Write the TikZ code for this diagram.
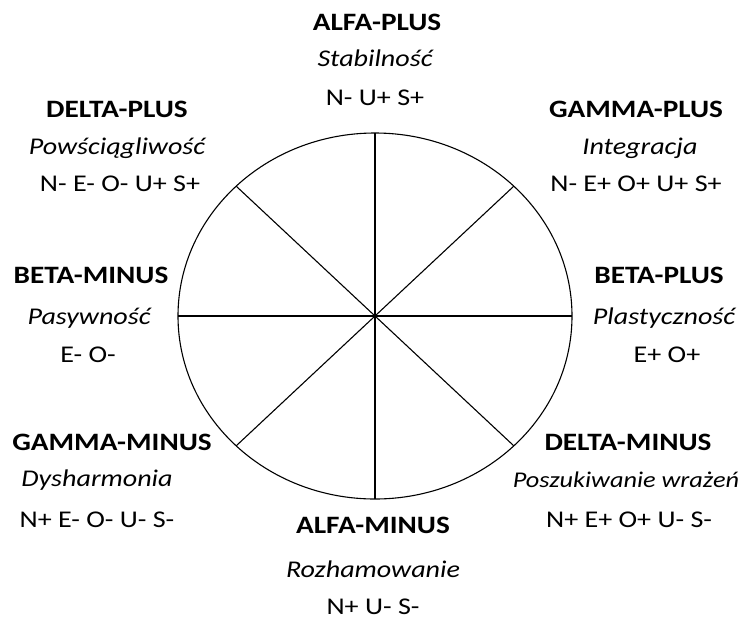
\documentclass[tikz,border=0pt]{standalone}
\usepackage{fontspec}
\setmainfont[FakeStretch=1.17]{Carlito}
\begin{document}
\begin{tikzpicture}[x=1pt,y=-1pt,
  ttl/.style={font=\fontsize{25}{28}\selectfont\bfseries, inner sep=0pt},
  sub/.style={font=\fontsize{24}{28}\selectfont\itshape, inner sep=0pt},
  code/.style={font=\fontsize{24}{28}\selectfont, inner sep=0pt},
  ln/.style={line width=1.1pt, black}]
\useasboundingbox (0,0) rectangle (753,622);
% ellipse and spokes
\coordinate (c) at (375,316);
\draw[ln] (c) ellipse [x radius=197, y radius=183];
\coordinate (n) at (375,133);
\coordinate (s) at (375,499);
\coordinate (w) at (178,316);
\coordinate (e) at (572,316);
\coordinate (nw) at (236,186);
\coordinate (ne) at (514,186);
\coordinate (sw) at (236,446);
\coordinate (se) at (514,446);
\draw[ln] (n) -- (s);
\draw[ln] (w) -- (e);
\draw[ln] (nw) -- (se);
\draw[ln] (ne) -- (sw);
% ALFA-PLUS
\node[ttl] (ap1) at (377,22) {ALFA-PLUS};
\node[sub] (ap2) at (375,58) {Stabilność};
\node[code] (ap3) at (375,98) {N- U+ S+};
% DELTA-PLUS
\node[ttl] (dp1) at (117,109) {DELTA-PLUS};
\node[sub] (dp2) at (117,148) {Powściągliwość};
\node[code] (dp3) at (120,184) {N- E- O- U+ S+};
% GAMMA-PLUS
\node[ttl] (gp1) at (636,109) {GAMMA-PLUS};
\node[sub] (gp2) at (640,148) {Integracja};
\node[code] (gp3) at (636,184) {N- E+ O+ U+ S+};
% BETA-MINUS
\node[ttl] (bm1) at (91,275) {BETA-MINUS};
\node[sub] (bm2) at (89,318) {Pasywność};
\node[code] (bm3) at (88,355) {E- O-};
% BETA-PLUS
\node[ttl] (bp1) at (659,275) {BETA-PLUS};
\node[sub] (bp2) at (664,318) {Plastyczność};
\node[code] (bp3) at (667,355) {E+ O+};
% GAMMA-MINUS
\node[ttl] (gm1) at (112,442) {GAMMA-MINUS};
\node[sub] (gm2) at (97,480) {Dysharmonia};
\node[code] (gm3) at (97,520) {N+ E- O- U- S-};
% DELTA-MINUS
\node[ttl] (dm1) at (628,442) {DELTA-MINUS};
\node[sub, font=\fontsize{22.5}{28}\selectfont\itshape] (dm2) at (626,480) {Poszukiwanie wrażeń};
\node[code] (dm3) at (629,520) {N+ E+ O+ U- S-};
% ALFA-MINUS
\node[ttl] (am1) at (373,525) {ALFA-MINUS};
\node[sub] (am2) at (373,569) {Rozhamowanie};
\node[code] (am3) at (373,607) {N+ U- S-};
\end{tikzpicture}
\end{document}
